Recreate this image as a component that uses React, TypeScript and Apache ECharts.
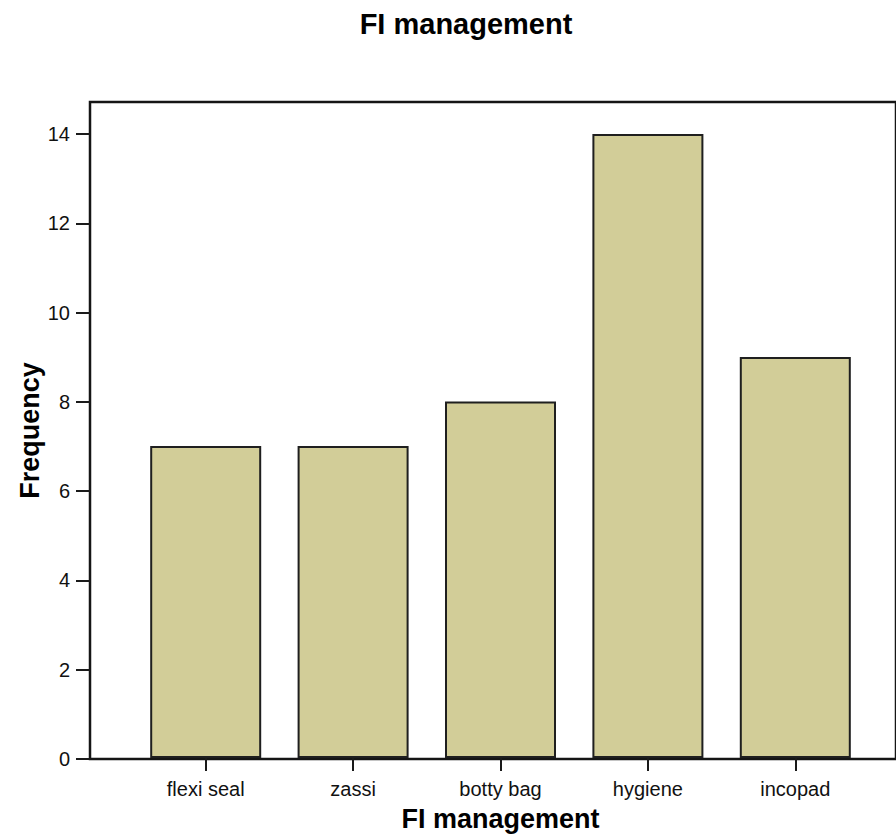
import React, { useEffect, useRef } from "react";
import * as echarts from "echarts";

const categories = ["flexi seal", "zassi", "botty bag", "hygiene", "incopad"];
const frequencies = [7, 7, 8, 14, 9];
const yTicks = [0, 2, 4, 6, 8, 10, 12, 14];
const yMax = 14.72;
const chartTitle = "FI management";
const xAxisTitle = "FI management";
const yAxisTitle = "Frequency";

const FONT = "'Liberation Sans', Arial, sans-serif";

export default function App() {
  const ref = useRef<HTMLDivElement>(null);
  useEffect(() => {
    if (!ref.current) return;
    const chart = echarts.init(ref.current, undefined, { renderer: "svg" });
    const frameGrid = { left: 90, right: -10, top: 102, bottom: 78 };
    const barGrid = { left: 132, right: 27, top: 102, bottom: 78 };
    chart.setOption({
      animation: false,
      backgroundColor: "#ffffff",
      textStyle: { fontFamily: FONT },
      title: {
        text: chartTitle,
        left: 461,
        top: 4,
        textAlign: "center",
        textStyle: { fontFamily: FONT, fontSize: 29, fontWeight: "bold", color: "#000" },
      },
      grid: [
        { ...frameGrid, show: true, borderColor: "#151515", borderWidth: 2.5, backgroundColor: "transparent" },
        { ...barGrid },
      ],
      xAxis: [
        { type: "value", gridIndex: 0, show: false, min: 0, max: 1 },
        {
          type: "category",
          gridIndex: 1,
          data: categories,
          axisLine: { show: false },
          axisTick: { show: true, alignWithLabel: true, length: 13, lineStyle: { color: "#1a1a1a", width: 2 } },
          axisLabel: { color: "#111", fontSize: 20, margin: 21, fontFamily: FONT },
          name: xAxisTitle,
          nameLocation: "middle",
          nameGap: 47,
          nameMoveOverlap: false,
          nameTextStyle: { fontFamily: FONT, fontSize: 27, fontWeight: "bold", color: "#000" },
        },
      ],
      yAxis: [
        {
          type: "value",
          gridIndex: 0,
          min: 0,
          max: yMax,
          interval: 2,
          axisLine: { show: false },
          splitLine: { show: false },
          axisTick: { show: true, length: 14, customValues: yTicks, lineStyle: { color: "#1a1a1a", width: 2 } },
          axisLabel: { color: "#111", fontSize: 20, margin: 20, customValues: yTicks, fontFamily: FONT },
          name: yAxisTitle,
          nameLocation: "middle",
          nameGap: 47,
          nameMoveOverlap: false,
          nameRotate: 90,
          nameTextStyle: { fontFamily: FONT, fontSize: 27, fontWeight: "bold", color: "#000" },
        },
        { type: "value", gridIndex: 1, min: 0, max: yMax, show: false, splitLine: { show: false } },
      ],
      series: [
        {
          type: "bar",
          xAxisIndex: 1,
          yAxisIndex: 1,
          data: frequencies,
          barWidth: 111,
          itemStyle: { color: "#d2cd98", borderColor: "#1f1f1f", borderWidth: 2 },
        },
      ],
    });
    return () => chart.dispose();
  }, []);
  return (
    <div
      ref={ref}
      style={{ position: "fixed", left: 0, top: 0, width: 896, height: 837, background: "#fff" }}
    />
  );
}
